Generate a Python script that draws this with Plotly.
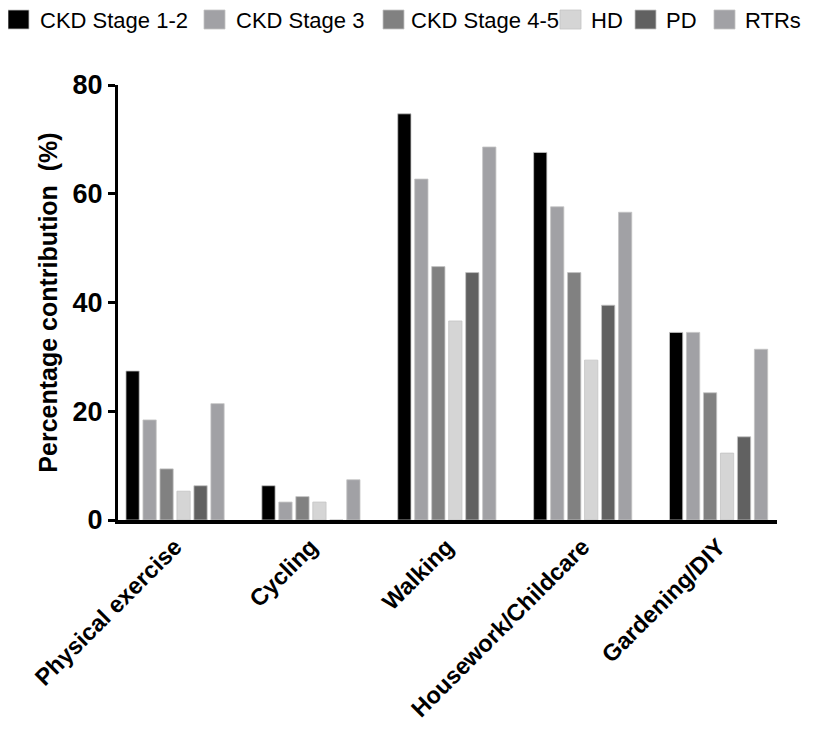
import plotly.graph_objects as go

categories = ["Physical exercise", "Cycling", "Walking", "Housework/Childcare", "Gardening/DIY"]
series_names = ["CKD Stage 1-2", "CKD Stage 3", "CKD Stage 4-5", "HD", "PD", "RTRs"]
ckd_1_2 = [27.4, 6.3, 74.7, 67.6, 34.5]
ckd_3 = [18.4, 3.3, 62.7, 57.6, 34.5]
ckd_4_5 = [9.4, 4.3, 46.6, 45.5, 23.4]
hd = [5.3, 3.3, 36.6, 29.4, 12.3]
pd_vals = [6.3, 0, 45.5, 39.5, 15.3]
rtrs = [21.4, 7.4, 68.6, 56.6, 31.4]
y_ticks = [0, 20, 40, 60, 80]

series_values = [ckd_1_2, ckd_3, ckd_4_5, hd, pd_vals, rtrs]
colors = ["#000000", "#a1a1a5", "#818181", "#d5d5d5", "#616161", "#a1a1a5"]

FONT = "Liberation Sans, Arial, sans-serif"

# the page body adds an 8px offset; geometry below is in figure pixels
OFF = 8
W, H = 815 - OFF, 735 - 2 * OFF
L, T = 118 - OFF, 85 - OFF
R = 815 - 777
B = OFF + H - 520
PW, PH = W - L - R, H - T - B

def px_x(p):
    # reference-page pixel -> paper coordinate
    return (p - OFF - L) / PW

def px_y(p):
    return (OFF + H - B - p) / PH

fig = go.Figure()
for name, vals, col in zip(series_names, series_values, colors):
    fig.add_trace(go.Bar(
        x=categories, y=vals, name=name, showlegend=False,
        marker=dict(color=col, line=dict(color="#c4c4c4", width=0.8)),
    ))

# legend row (symbol left pixel, text left pixel, in reference-page pixels)
legend_sym_x = [8, 204, 383, 560, 635, 714]
legend_txt_x = [38, 234, 409, 589, 664, 743]
shapes = []
annotations = []
for name, col, sx, tx in zip(series_names, colors, legend_sym_x, legend_txt_x):
    shapes.append(dict(type="rect", xref="paper", yref="paper",
                       x0=px_x(sx), x1=px_x(sx + 21), y0=px_y(29), y1=px_y(10),
                       fillcolor=col, line=dict(color="#c4c4c4", width=0.8)))
    annotations.append(dict(text=name, xref="paper", yref="paper",
                            x=px_x(tx), y=px_y(20), xanchor="left", yanchor="middle",
                            showarrow=False,
                            font=dict(family=FONT, size=22, color="black")))

fig.update_layout(
    width=W, height=H,
    margin=dict(l=L, r=R, t=T, b=B),
    paper_bgcolor="white", plot_bgcolor="white",
    barmode="group", bargap=0.25, bargroupgap=0.22,
    font=dict(family=FONT, color="black"),
    showlegend=False,
    shapes=shapes, annotations=annotations,
    xaxis=dict(
        range=[-0.42, 4.43], showline=True, linecolor="black", linewidth=3.5,
        ticks="", tickangle=-45, automargin=False,
        tickfont=dict(family=FONT, size=23.5, color="black", weight="bold"),
        showgrid=False, zeroline=False,
    ),
    yaxis=dict(
        range=[0, 80], tickvals=y_ticks, showline=True, linecolor="black", linewidth=3,
        ticks="outside", ticklen=7, tickwidth=2.5, tickcolor="black", automargin=False,
        tickfont=dict(family=FONT, size=27, color="black", weight="bold"),
        showgrid=False, zeroline=False,
        title=dict(text="Percentage contribution\u00a0\u00a0(%)", standoff=8,
                   font=dict(family=FONT, size=25, color="black", weight="bold")),
    ),
)

fig.write_html("out.html")
